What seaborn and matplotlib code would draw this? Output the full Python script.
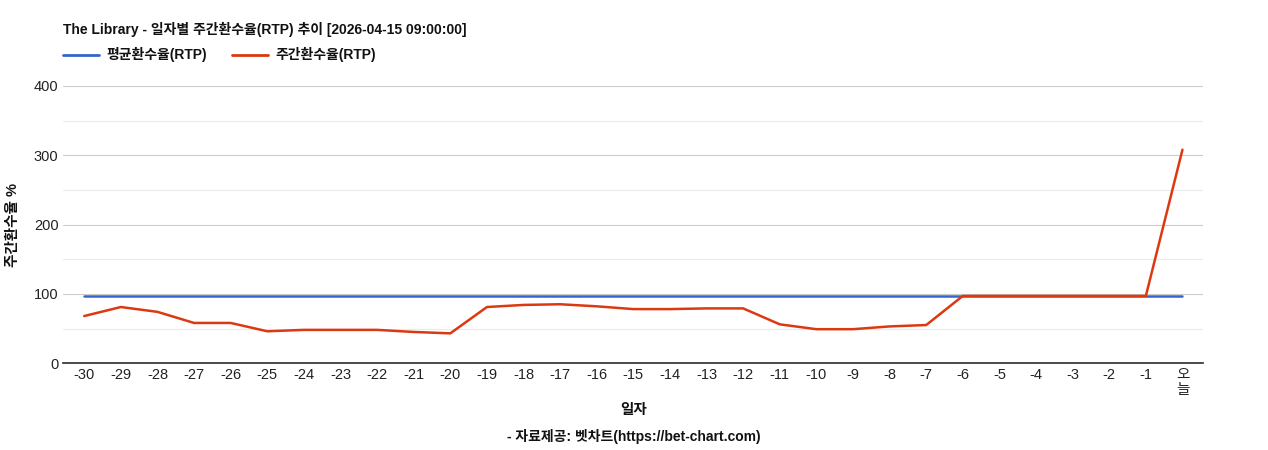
import matplotlib
matplotlib.use('Agg')
import matplotlib.pyplot as plt
import seaborn as sns
import pandas as pd

days = [str(d) for d in range(-30, 0)] + ['오\n늘']
weekly_rtp = [68, 81, 74, 58, 58, 46, 48, 48, 48, 45, 43, 81, 84, 85, 82, 78, 78, 79, 79,
              56, 49, 49, 53, 55, 97, 97, 97, 97, 97, 97, 308]
avg_rtp = [96.5] * len(days)

sns.set_theme(style='white')
plt.rcParams['font.family'] = ['Liberation Sans', 'Noto Sans CJK KR', 'DejaVu Sans']
plt.rcParams['text.color'] = '#111111'
plt.rcParams['axes.labelcolor'] = '#111111'
plt.rcParams['xtick.color'] = '#222222'
plt.rcParams['ytick.color'] = '#222222'

df = pd.DataFrame({'idx': range(len(days)), '평균환수율(RTP)': avg_rtp, '주간환수율(RTP)': weekly_rtp})
long = df.melt(id_vars='idx', var_name='series', value_name='value')

fig = plt.figure(figsize=(12.68, 4.5), dpi=100)
ax = fig.add_axes([0.05, 0.193, 0.899, 0.616])
sns.lineplot(data=long, x='idx', y='value', hue='series',
             palette={'평균환수율(RTP)': '#3366cc', '주간환수율(RTP)': '#dc3912'},
             linewidth=1.8, ax=ax, legend=False)

ax.set_xlim(-0.57, len(days) - 0.43)
ax.set_ylim(0, 400)
ax.set_yticks([0, 100, 200, 300, 400])
ax.set_yticks([50, 150, 250, 350], minor=True)
ax.grid(axis='y', which='major', color='#cccccc', linewidth=0.8)
ax.grid(axis='y', which='minor', color='#ebebeb', linewidth=0.8)
ax.set_axisbelow(True)
ax.set_xticks(range(len(days)))
ax.set_xticklabels(days, fontsize=10.5, linespacing=1.1)
ax.tick_params(axis='y', labelsize=10.5, length=0)
ax.tick_params(axis='x', length=0)
for s in ['top', 'right', 'left']:
    ax.spines[s].set_visible(False)
ax.spines['bottom'].set_color('#333333')
ax.set_ylabel('주간환수율 %', fontsize=10.5, fontweight='bold', labelpad=10)
ax.set_xlabel('일자', fontsize=10.5, fontweight='bold', labelpad=4)

fig.text(0.05, 0.925, 'The Library - 일자별 주간환수율(RTP) 추이 [2026-04-15 09:00:00]',
         fontsize=10, fontweight='bold', ha='left')
fig.text(0.5, 0.02, '- 자료제공: 벳차트(https://bet-chart.com)',
         fontsize=10, fontweight='bold', ha='center')

# legend
fig.lines.append(plt.Line2D([0.05, 0.078], [0.878, 0.878], color='#3366cc', linewidth=2, transform=fig.transFigure))
fig.text(0.084, 0.878, '평균환수율(RTP)', fontsize=10, fontweight='bold', va='center')
fig.lines.append(plt.Line2D([0.183, 0.211], [0.878, 0.878], color='#dc3912', linewidth=2, transform=fig.transFigure))
fig.text(0.217, 0.878, '주간환수율(RTP)', fontsize=10, fontweight='bold', va='center')

fig.savefig('out.png', dpi=100)
